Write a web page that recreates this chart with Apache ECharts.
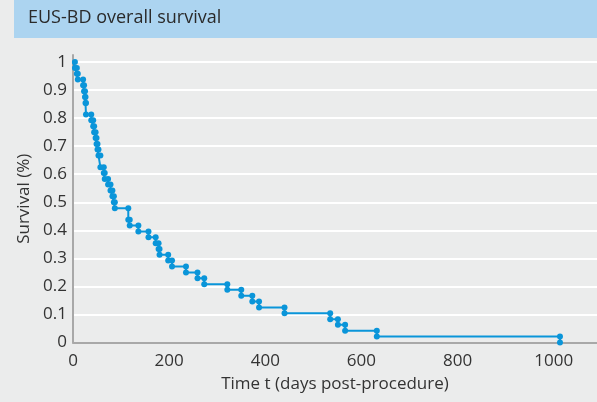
<!DOCTYPE html>
<html>
<head>
<meta charset="utf-8">
<script src="https://cdn.jsdelivr.net/npm/echarts@6/dist/echarts.min.js"></script>
<style>
html,body{margin:0;padding:0;background:#ebecec;}
#chart{width:597px;height:402px;}
</style>
</head>
<body>
<div id="chart"></div>
<script>
// Event times (days) and Kaplan-Meier survival after each event
var eventDays = [4, 8, 10, 21, 23, 25, 26, 27, 38, 42, 44, 47, 49, 51, 53, 57, 64, 66, 73, 78, 82, 85, 87, 115, 118, 136, 157, 172, 178, 180, 198, 206, 235, 259, 273, 321, 350, 373, 387, 440, 535, 551, 566, 632, 1013];
var survival = [0.979, 0.958, 0.938, 0.917, 0.896, 0.875, 0.854, 0.813, 0.792, 0.771, 0.750, 0.729, 0.708, 0.688, 0.667, 0.625, 0.604, 0.583, 0.563, 0.542, 0.521, 0.500, 0.479, 0.438, 0.417, 0.396, 0.375, 0.354, 0.333, 0.313, 0.292, 0.271, 0.250, 0.229, 0.208, 0.188, 0.167, 0.146, 0.125, 0.104, 0.083, 0.063, 0.042, 0.021, 0.000];
var startSurvival = 1;
var yTicks = [0, 0.1, 0.2, 0.3, 0.4, 0.5, 0.6, 0.7, 0.8, 0.9, 1];
var xTicks = [0, 200, 400, 600, 800, 1000];

var pts = [[0, startSurvival]];
var prev = startSurvival;
for (var i = 0; i < eventDays.length; i++) {
  pts.push([eventDays[i], prev]);
  pts.push([eventDays[i], survival[i]]);
  prev = survival[i];
}

var FONT = 'Open Sans';
var chart = echarts.init(document.getElementById('chart'));
chart.setOption({
  backgroundColor: '#ebecec',
  animation: false,
  graphic: [
    {type: 'rect', shape: {x: 14, y: 0, width: 583, height: 38}, style: {fill: '#acd4f0'}},
    {type: 'text', left: 28, top: 9, style: {text: 'EUS-BD overall survival', fontFamily: FONT, fontSize: 18, fill: '#2a2a2a'}}
  ],
  grid: {left: 73, right: 0, top: 55, bottom: 59.5, containLabel: false},
  xAxis: {
    type: 'value', min: 0, max: 1090, interval: 200,
    name: 'Time t (days post-procedure)', nameLocation: 'middle', nameGap: 33,
    nameTextStyle: {fontFamily: FONT, fontSize: 17, color: '#333'},
    axisLine: {show: true, lineStyle: {color: '#a8a8a8', width: 2}},
    axisTick: {show: false},
    splitLine: {show: false},
    axisLabel: {fontFamily: FONT, fontSize: 17, color: '#333', margin: 10, showMaxLabel: false,
      formatter: function (v) { return xTicks.indexOf(v) >= 0 ? String(v) : ''; }}
  },
  yAxis: {
    type: 'value', min: 0, max: 1.025, interval: 0.1,
    name: 'Survival (%)', nameLocation: 'middle', nameGap: 38,
    nameTextStyle: {fontFamily: FONT, fontSize: 17, color: '#333'},
    axisLine: {show: true, lineStyle: {color: '#a8a8a8', width: 2}},
    axisTick: {show: false},
    splitLine: {show: true, showMaxLine: false, lineStyle: {color: '#ffffff', width: 2}},
    axisLabel: {fontFamily: FONT, fontSize: 17, color: '#333', margin: 6, showMaxLabel: false,
      formatter: function (v) {
        for (var k = 0; k < yTicks.length; k++) { if (Math.abs(v - yTicks[k]) < 1e-6) return String(yTicks[k]); }
        return '';
      }}
  },
  series: [{
    type: 'line',
    data: pts,
    showSymbol: true,
    symbol: 'circle',
    symbolSize: function (val, params) { return params.dataIndex === 0 ? 0 : 6; },
    lineStyle: {color: '#0a95d9', width: 2},
    itemStyle: {color: '#0a95d9'},
    clip: false
  }]
});
</script>
</body>
</html>
